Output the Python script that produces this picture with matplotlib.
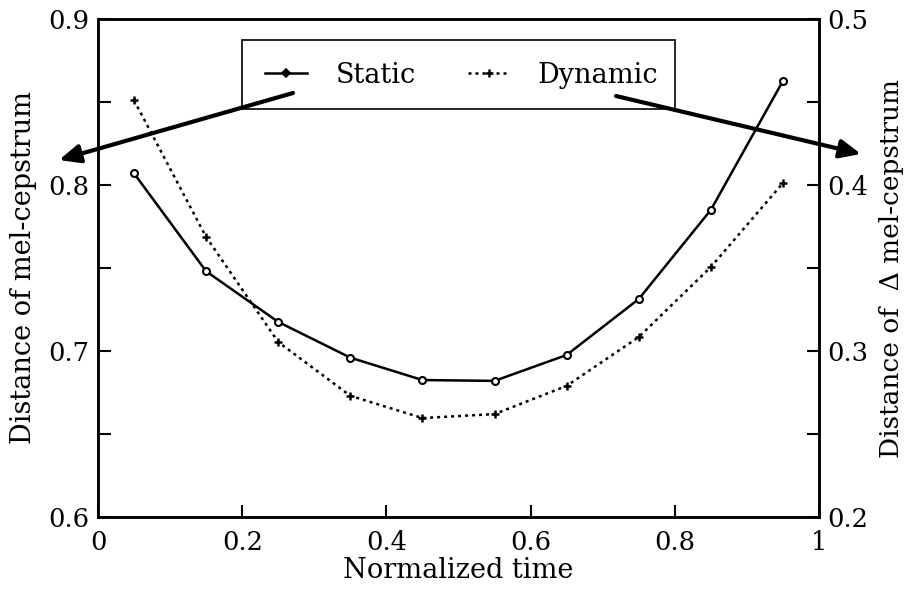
import matplotlib
matplotlib.use("Agg")
import matplotlib.pyplot as plt
from matplotlib.lines import Line2D
from matplotlib.patches import Rectangle, FancyArrowPatch

plt.rcParams['font.family'] = ['DejaVu Serif']

t = [0.05, 0.15, 0.25, 0.35, 0.45, 0.55, 0.65, 0.75, 0.85, 0.95]
static = [0.807, 0.748, 0.7175, 0.696, 0.6825, 0.682, 0.6976, 0.7313, 0.785, 0.8627]
dynamic = [0.451, 0.3687, 0.3054, 0.273, 0.2596, 0.262, 0.279, 0.3084, 0.3506, 0.4012]
xticks = [0, 0.2, 0.4, 0.6, 0.8, 1]
xticklabels = ['0', '0.2', '0.4', '0.6', '0.8', '1']
lticks = [0.6, 0.7, 0.8, 0.9]
rticks = [0.2, 0.3, 0.4, 0.5]

W, H = 908, 590
fig = plt.figure(figsize=(W / 100, H / 100), dpi=100)
ax = fig.add_axes([98 / W, 1 - 517 / H, (819 - 98) / W, (517 - 19) / H])
ax2 = ax.twinx()

ax.plot(t, static, color='black', lw=1.8, marker='o', ms=5, mfc='white', mew=1.5, zorder=3)
ax2.plot(t, dynamic, color='black', lw=1.8, ls=(0, (1.2, 1.6)), marker='+', ms=6, mew=1.8, zorder=3)

ax.set_xlim(0, 1)
ax.set_ylim(0.6, 0.9)
ax2.set_ylim(0.2, 0.5)
ax.set_xticks(xticks)
ax.set_xticklabels(xticklabels)
ax.set_yticks(lticks)
ax.set_yticklabels([f'{v:.1f}' for v in lticks])
ax.set_yticks([0.65, 0.75, 0.85], minor=True)
ax2.set_yticks(rticks)
ax2.set_yticklabels([f'{v:.1f}' for v in rticks])
ax2.set_yticks([0.25, 0.35, 0.45], minor=True)

for a in (ax, ax2):
    for s in a.spines.values():
        s.set_linewidth(1.8)
    a.tick_params(which='both', direction='in', length=9, width=1.5, labelsize=18.5)
ax.tick_params(axis='x', pad=9)
ax.tick_params(axis='y', pad=6)
ax2.tick_params(axis='y', pad=6)

ax.set_xlabel('Normalized time', fontsize=19.5, labelpad=2)
ax.set_ylabel('Distance of mel-cepstrum', fontsize=19.5, labelpad=8)
ax2.set_ylabel('Distance of  Δ mel-cepstrum', fontsize=19, labelpad=8)

# legend box
fig.patches.append(Rectangle((242 / W, 1 - 109 / H), (675 - 242) / W, (109 - 40) / H,
                             transform=fig.transFigure, fill=True, facecolor='white',
                             edgecolor='black', lw=1.2, zorder=5))
handles = [Line2D([], [], color='black', lw=1.8, marker='D', ms=4, mfc='black', mew=1.2),
           Line2D([], [], color='black', lw=1.8, ls=(0, (1.2, 1.6)), marker='+', ms=6, mew=1.8)]
leg = fig.legend(handles, ['Static', 'Dynamic'], loc='center', ncol=2,
                 bbox_to_anchor=(462 / W, 1 - 75 / H), frameon=False, fontsize=19.5,
                 handlelength=1.55, columnspacing=1.9, handletextpad=1.05)
leg.set_zorder(6)

# arrows
style = '-|>,head_length=0.9,head_width=0.4'
fig.add_artist(FancyArrowPatch((293 / W, 1 - 93 / H), (59 / W, 1 - 160 / H),
               transform=fig.transFigure, mutation_scale=14, zorder=7,
               arrowstyle=style, lw=3, color='black', shrinkA=0, shrinkB=0))
fig.add_artist(FancyArrowPatch((616 / W, 1 - 96 / H), (861 / W, 1 - 154 / H),
               transform=fig.transFigure, mutation_scale=14, zorder=7,
               arrowstyle=style, lw=3, color='black', shrinkA=0, shrinkB=0))

fig.savefig('out.png', dpi=100)
